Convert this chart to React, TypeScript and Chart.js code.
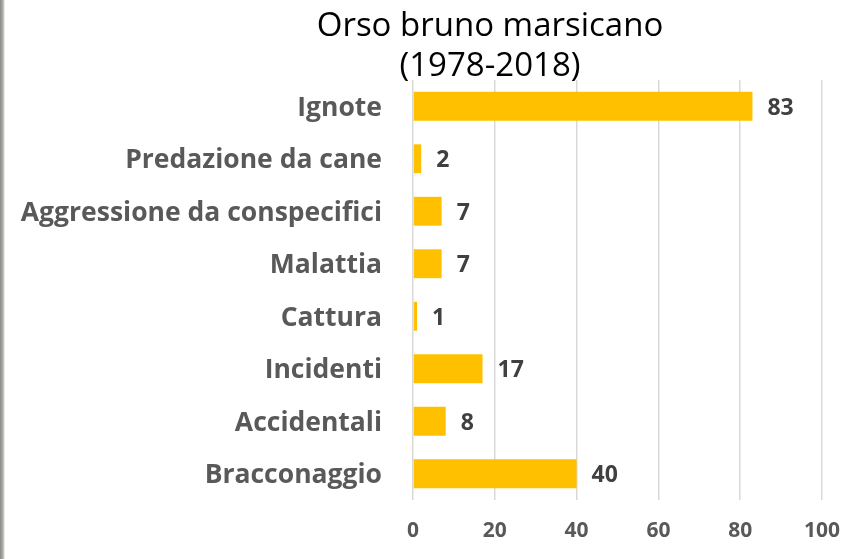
import React, { useEffect, useRef } from "react";
import { Chart, registerables } from "chart.js";

Chart.register(...registerables);

const categories = [
  "Ignote",
  "Predazione da cane",
  "Aggressione da conspecifici",
  "Malattia",
  "Cattura",
  "Incidenti",
  "Accidentali",
  "Bracconaggio",
];
const values = [83, 2, 7, 7, 1, 17, 8, 40];
const titleLines = ["Orso bruno marsicano", "(1978-2018)"];
const xMin = 0;
const xMax = 100;
const xStep = 20;

const FONT = "'Open Sans', sans-serif";

const titlePlugin = {
  id: "customTitle",
  afterDraw(chart: any) {
    const ctx = chart.ctx;
    ctx.save();
    ctx.fillStyle = "#000000";
    ctx.font = `33px ${FONT}`;
    ctx.textAlign = "center";
    ctx.textBaseline = "middle";
    ctx.fillText(titleLines[0], 490, 27);
    ctx.fillText(titleLines[1], 490, 67);
    ctx.restore();
  },
};

const dataLabelPlugin = {
  id: "dataLabels",
  afterDatasetsDraw(chart: any) {
    const ctx = chart.ctx;
    const meta = chart.getDatasetMeta(0);
    ctx.save();
    ctx.fillStyle = "#404040";
    ctx.font = `bold 23px ${FONT}`;
    ctx.textAlign = "left";
    ctx.textBaseline = "middle";
    meta.data.forEach((bar: any, i: number) => {
      ctx.fillText(String(values[i]), bar.x + 15, bar.y + 2);
    });
    ctx.restore();
  },
};

export default function App() {
  const ref = useRef<HTMLCanvasElement>(null);
  useEffect(() => {
    const chart = new Chart(ref.current!, {
      type: "bar",
      data: {
        labels: categories,
        datasets: [
          {
            data: values,
            backgroundColor: "#FFC000",
            borderWidth: 0,
            barPercentage: 0.55,
            categoryPercentage: 1,
          },
        ],
      },
      options: {
        indexAxis: "y",
        animation: false,
        responsive: false,
        maintainAspectRatio: false,
        layout: { padding: { top: 80, right: 46, left: 0, bottom: 0 } },
        plugins: {
          legend: { display: false },
          title: { display: false },
          tooltip: { enabled: false },
        },
        scales: {
          x: {
            min: xMin,
            max: xMax,
            ticks: {
              stepSize: xStep,
              color: "#595959",
              font: { family: FONT, size: 21, weight: "bold" },
              padding: 18,
            },
            grid: { color: "#d9d9d9", lineWidth: 1.5, drawTicks: false },
            border: { display: false },
            afterFit(scale: any) {
              scale.height = 59;
            },
          },
          y: {
            ticks: {
              color: "#595959",
              font: { family: FONT, size: 26.5, weight: "bold" },
              padding: 31,
              labelOffset: 2,
            },
            grid: { display: false, drawTicks: false },
            border: { display: false },
            afterFit(scale: any) {
              scale.width = 413;
            },
          },
        },
      },
      plugins: [titlePlugin, dataLabelPlugin],
    });
    return () => chart.destroy();
  }, []);
  return (
    <div
      style={{
        position: "fixed",
        left: 0,
        top: 0,
        width: 868,
        height: 559,
        background: "linear-gradient(to right, #8a8a84 0px, #b0b0aa 3px, #ffffff 5px)",
      }}
    >
      <canvas ref={ref} width={868} height={559} />
    </div>
  );
}
